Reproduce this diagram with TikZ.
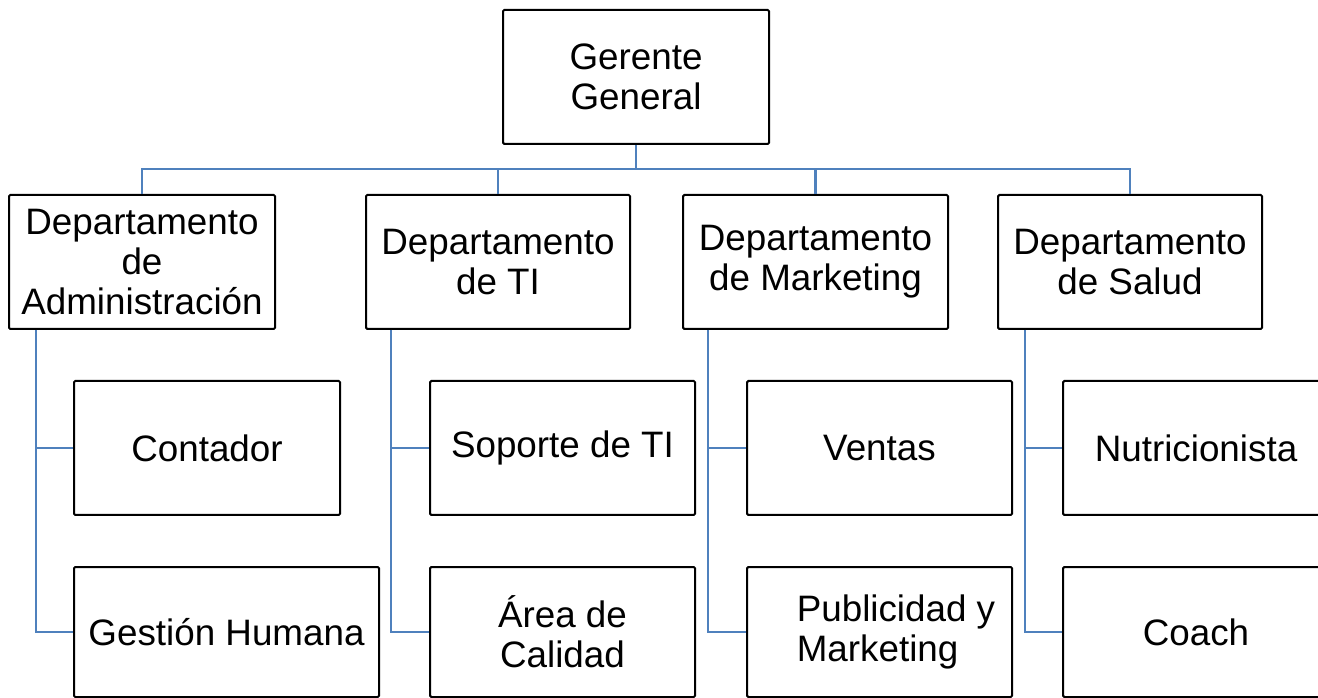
\documentclass[tikz,border=0pt]{standalone}
\usepackage{fontspec}
\setmainfont{Liberation Sans}
\definecolor{linkblue}{RGB}{79,129,189}
\begin{document}
\begin{tikzpicture}[x=0.75pt,y=-0.75pt,
  box/.style={draw=black,line width=1.5pt,rounded corners=1pt,fill=white,
    inner sep=0pt,align=center,minimum height=134*0.75pt,
    font=\fontsize{27.6pt}{30pt}\selectfont},
  link/.style={draw=linkblue,line width=2.2pt}]
\clip (0,0) rectangle (1318,698);
\fill[white] (0,0) rectangle (1318,698);
% top
\node[box,minimum width=266*0.75pt] (gg) at (636,77) {Gerente\\General};
% departments
\node[box,minimum width=266*0.75pt] (d1) at (142,262) {Departamento\\de\\Administración};
\node[box,minimum width=264*0.75pt] (d2) at (498,262) {Departamento\\de TI};
\node[box,minimum width=265*0.75pt] (d3) at (815.5,262) {Departamento\\de Marketing};
\node[box,minimum width=264*0.75pt] (d4) at (1130,262) {Departamento\\de Salud};
% children row 1
\node[box,minimum width=266*0.75pt] (c11) at (207,448) {Contador};
\node[box,minimum width=265*0.75pt] (c21) at (562.5,448) {Soporte de TI};
\node[box,minimum width=265*0.75pt] (c31) at (879.5,448) {Ventas};
\node[box,minimum width=266*0.75pt] (c41) at (1196,448) {Nutricionista};
% children row 2
\node[box,minimum width=305*0.75pt,minimum height=130*0.75pt] (c12) at (226.5,632) {Gestión Humana};
\node[box,minimum width=265*0.75pt,minimum height=130*0.75pt] (c22) at (562.5,632) {Área de\\Calidad};
\node[box,minimum width=265*0.75pt,minimum height=130*0.75pt,align=left] (c32) at (879.5,632) {\hspace*{24.75pt}Publicidad y\\\hspace*{24.75pt}Marketing};
\node[box,minimum width=266*0.75pt,minimum height=130*0.75pt] (c42) at (1196,632) {Coach};
% bus
\coordinate (bus) at (636,169);
\draw[link] (gg.south) -- (bus);
\draw[link] (bus) -| (d1.north);
\draw[link] (bus) -| (d2.north);
\draw[link] (bus) -| (d3.north);
\draw[link] (bus) -| (d4.north);
% department to children
\foreach \d/\a/\b/\o in {d1/c11/c12/28,d2/c21/c22/26,d3/c31/c32/26,d4/c41/c42/28}{
  \draw[link] ([xshift=\o*0.75pt]\d.south west) |- (\a.west);
  \draw[link] ([xshift=\o*0.75pt]\d.south west) |- (\b.west);
}
\end{tikzpicture}
\end{document}
